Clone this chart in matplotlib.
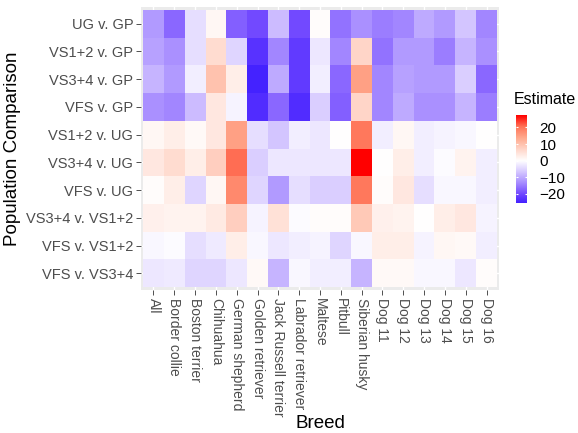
import numpy as np
import matplotlib
matplotlib.use("Agg")
import matplotlib.pyplot as plt
from matplotlib.colors import LinearSegmentedColormap, Normalize

plt.rcParams["font.family"] = ["Liberation Sans", "DejaVu Sans"]

breeds = ["All", "Border collie", "Boston terrier", "Chihuahua", "German shepherd",
          "Golden retriever", "Jack Russell terrier", "Labrador retriever", "Maltese",
          "Pitbull", "Siberian husky", "Dog 11", "Dog 12", "Dog 13", "Dog 14",
          "Dog 15", "Dog 16"]
comparisons = ["UG v. GP", "VS1+2 v. GP", "VS3+4 v. GP", "VFS v. GP", "VS1+2 v. UG",
               "VS3+4 v. UG", "VFS v. UG", "VS3+4 v. VS1+2", "VFS v. VS1+2", "VFS v. VS3+4"]

# estimates, one list per comparison (breed order as above)
ug_gp      = [-12, -17, -4, 1.5, -18, -20, -8, -20, 0.5, -16, -13, -15, -14, -10, -12, -7, -14]
vs12_gp    = [-11, -13, -4, 6, -5, -23, -14, -22, -3, -14, 7, -16, -12, -12, -15, -9, -13]
vs34_gp    = [-9, -12, -2, 10, 3, -25.5, -10, -22, -2, -17, 15, -14, -11, -12, -12, -6, -17]
vfs_gp     = [-13, -14, -8, 4, -1.5, -24, -17, -24, -6, -18, 7, -14, -10, -13, -13, -9, -15]
vs12_ug    = [1.5, 3, 1, 4, 15, -4, -7, -2, -3, 0, 20, -2, 1.5, -2, -1.5, -1, 0]
vs34_ug    = [4, 6, 3, 8, 21, -6, -3, -3, -3, -3, 27.5, 0, 3, -2, -0.5, 2, -2]
vfs_ug     = [0.5, 3, -5, 1.5, 18, -5, -12, -4, -6, -6, 20, 0.5, 4, -4, -1, -1, -2]
vs34_vs12  = [2.5, 2, 2, 3.5, 8, -1.5, 5, -0.5, 0.5, 0.5, 9, 2.5, 2, 0, 3, 4, -1.5]
vfs_vs12   = [-1, -0.5, -4, -2.5, 3, -1, -3, -2, -1.5, -5, -1, 3, 3, -1.5, 1.5, 1, -2]
vfs_vs34   = [-3, -2.5, -5, -5, -3, 1, -9, -1, -2, -2, -9, 1, 1, -1, -1, -3, 0.5]

data = np.array([ug_gp, vs12_gp, vs34_gp, vfs_gp, vs12_ug, vs34_ug, vfs_ug,
                 vs34_vs12, vfs_vs12, vfs_vs34])

# blue - white - red, roughly like ggplot's gradient2 (Lab interpolation)
cmap = LinearSegmentedColormap.from_list("est", [
    (0.0, "#3414FF"), (0.125, "#6E44FF"), (0.25, "#A58AFF"), (0.375, "#D4C6FF"),
    (0.5, "#FFFFFF"), (0.625, "#FFD6C9"), (0.75, "#FFAA8E"), (0.875, "#FF7458"),
    (1.0, "#FF0000")])
lim = np.abs(data).max()
norm = Normalize(-lim, lim)

fig = plt.figure(figsize=(5.78, 4.33), dpi=100)
ax = fig.add_axes([141 / 578, 1 - 290 / 433, 358 / 578, 283 / 433])

ax.set_facecolor("#EBEBEB")
ax.pcolormesh(np.arange(len(breeds) + 1) - 0.5, np.arange(len(comparisons) + 1) - 0.5,
              data, cmap=cmap, norm=norm, zorder=2)
ax.set_xlim(-0.6, len(breeds) - 0.4)
ax.set_ylim(len(comparisons) - 0.4, -0.6)
ax.set_xticks(range(len(breeds)))
ax.set_yticks(range(len(comparisons)))
ax.grid(color="white", linewidth=1, zorder=0)
ax.set_xticklabels(breeds, rotation=270, fontsize=10, color="#4D4D4D")
ax.set_yticklabels(comparisons, fontsize=10.5, color="#4D4D4D")
ax.tick_params(length=3.5, width=0.6, color="#333333", pad=2)
for s in ax.spines.values():
    s.set_visible(False)

fig.text(320 / 578, 1 - 423 / 433, "Breed", fontsize=13.5, ha="center", va="center")
ax.set_ylabel("Population Comparison", fontsize=13.5, labelpad=4)

# legend colour bar
cax = fig.add_axes([516 / 578, 1 - 203 / 433, 11 / 578, 88 / 433])
grad = np.linspace(data.min(), data.max(), 300).reshape(-1, 1)
cax.imshow(grad, cmap=cmap, norm=norm, aspect="auto", origin="lower",
           extent=[0, 1, data.min(), data.max()])
ticks = [-20, -10, 0, 10, 20]
cax.hlines(ticks, 0, 0.2, color="white", linewidth=0.8)
cax.hlines(ticks, 0.8, 1, color="white", linewidth=0.8)
cax.set_xticks([])
cax.yaxis.tick_right()
cax.set_yticks(ticks)
cax.set_yticklabels(["\u221220" if t == -20 else "\u221210" if t == -10 else str(t) for t in ticks],
                    fontsize=11, color="black")
cax.tick_params(length=0, pad=9)
for s in cax.spines.values():
    s.set_visible(False)
fig.text(514 / 578, 1 - 100 / 433, "Estimate", fontsize=11.5, va="center", ha="left")

fig.savefig("out.png", dpi=100, facecolor="white")
